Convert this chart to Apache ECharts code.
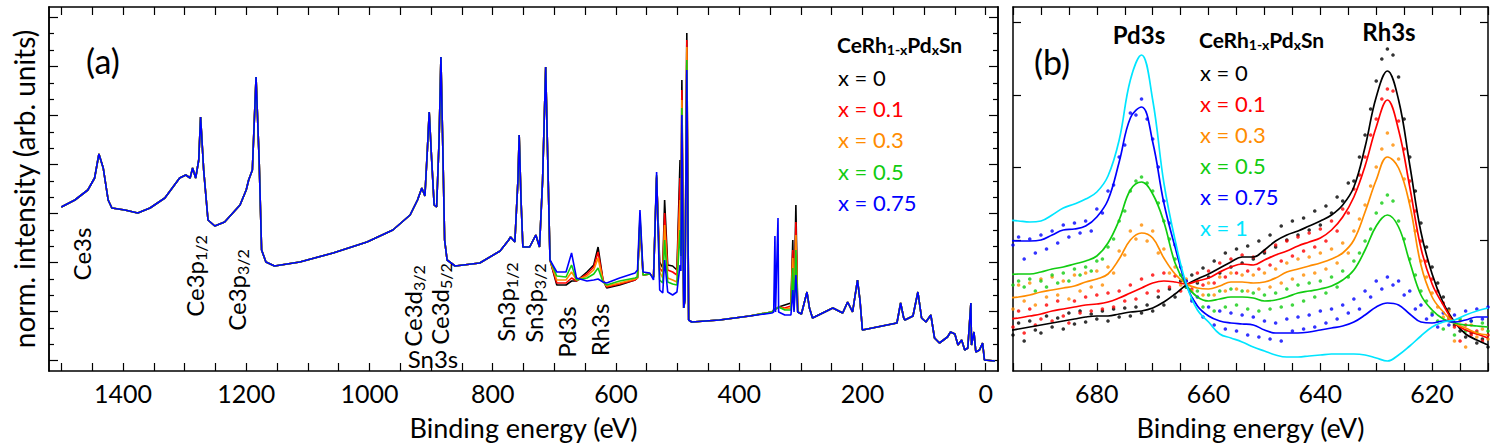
<!DOCTYPE html>
<html><head><meta charset="utf-8">
<script src="https://cdn.jsdelivr.net/npm/echarts@6/dist/echarts.min.js"></script>
<style>html,body{margin:0;padding:0;background:#fff}#c{width:1495px;height:447px}</style>
</head><body><div id="c"></div>
<script>
// ---------- Panel (a): survey spectra ----------
const energyA = [1500,1478,1457,1446,1439,1432,1424,1418,1397,1376,1356,1332,1308,1298,1291,1287,1282,1277,1274,1269,
1262,1251,1235,1210,1200,1196,1190,1184,1179,1175,1168,1154,1113,1059,1004,962,934,922,915,910,
906,903,899,895,891,887,884,881,878,874,861,821,788,774,771,764,759,757,754,751,
740,730,724,719,714,711,707,
696,681,672,664,647,636,629,621,615,594,569,565,561,556,545,539,534,529,524,521,
516,508,501,496,494.5,493,490,488,485,482,477,432,383,347,344,342,341,337,336,326,
316,313,311,308,305,299,290,286,281,248,232,224,216,208,204,200,144,138,133,131,
118,110,104,97,89,83,75,62,57,50,45,39,34,29,24,23,19,16,10,5,2,-15];

const surveyX0 = [164,171,181,193,217,203,171,163,161,158,163,173,193,196,193,203,193,211,254,201,
151,145,149,166,181,191,201,294,211,121,109,105,109,118,129,141,156,171,183,175,
221,259,211,166,164,230,314,225,131,111,105,108,120,131,134,129,191,236,171,124,
124,136,124,191,304,221,111,
86,86,90,90,99,106,124,91,83,86,91,93,149,96,97,94,193,109,103,171,
106,105,101,211,130,291,63,71,338,51,49,51,55,59,61,62,62,63,64,66,
68,131,61,166,59,57,79,63,53,63,58,69,59,91,71,41,48,68,53,51,
55,79,53,49,56,33,28,34,39,37,26,31,21,23,68,26,39,19,21,28,11,10];

const surveyX01 = [164,171,181,193,217,203,171,163,161,158,163,173,193,196,193,203,193,211,254,201,
151,145,149,166,181,191,201,294,211,121,109,105,109,118,129,141,156,171,183,175,
221,259,211,166,164,230,314,225,131,111,105,108,120,131,134,129,191,236,171,124,
124,136,124,191,304,221,111,
88,88,93,90,97,104,119,91,84,87,91,93,151,96,97,94,194,103,99,158,
101,99,96,193,125,281,63,71,331,51,49,51,55,59,61,62,62,63,64,63,
65,121,61,149,59,57,79,63,53,63,58,69,59,91,71,41,48,68,53,51,
55,79,53,49,56,33,28,34,39,37,26,31,21,23,68,26,39,19,21,28,11,10];

const surveyX03 = [164,171,181,193,217,203,171,163,161,158,163,173,193,196,193,203,193,211,254,201,
151,145,149,166,181,191,201,294,211,121,109,105,109,118,129,141,156,171,183,175,
221,259,211,166,164,230,314,225,131,111,105,108,120,131,134,129,191,236,171,124,
124,136,124,191,304,221,111,
91,91,99,91,95,101,113,90,85,88,92,93,153,96,97,94,195,99,93,146,
93,91,89,171,120,271,63,71,324,51,49,51,55,59,61,62,62,63,64,62,
63,113,61,136,59,57,79,63,53,63,58,69,59,91,71,41,48,68,53,51,
55,79,53,49,56,33,28,34,39,37,26,31,21,23,68,26,39,19,21,28,11,10];

const surveyX05 = [164,171,181,193,217,203,171,163,161,158,163,173,193,196,193,203,193,211,254,201,
151,145,149,166,181,191,201,294,211,121,109,105,109,118,129,141,156,171,183,175,
221,259,211,166,164,230,314,225,131,111,105,108,120,131,134,129,191,236,171,124,
124,136,124,191,304,221,111,
95,94,106,91,93,97,103,89,86,90,93,94,156,96,97,93,196,91,88,131,
89,87,86,141,115,263,63,71,311,51,49,51,55,59,61,62,62,63,64,61,
61,103,61,121,59,57,79,63,53,63,58,69,59,91,71,41,48,68,53,51,
55,79,53,49,56,33,28,34,39,37,26,31,21,23,68,26,39,19,21,28,11,10];

const surveyX075 = [164,171,181,193,217,203,171,163,161,158,163,173,193,196,193,203,193,211,254,201,
151,145,149,166,181,191,201,294,211,121,109,105,109,118,129,141,156,171,183,175,
221,259,211,166,164,230,314,225,131,111,105,108,120,131,134,129,191,236,171,124,
124,136,124,191,304,221,111,
99,99,118,93,90,91,92,89,88,93,98,101,161,99,98,91,199,81,78,111,
79,76,79,106,100,256,63,71,301,51,49,51,55,58,59,135,59,153,59,56,
56,81,59,96,59,57,79,63,53,63,58,69,59,91,71,41,48,68,53,51,
55,79,53,49,56,33,28,34,39,37,26,31,21,23,68,26,39,19,21,28,11,10];

const tickLabelsA = [0,200,400,600,800,1000,1200,1400];
const tickMarksA = [0,50,100,150,200,250,300,350,400,450,500,550,600,650,700,750,800,850,900,950,1000,1050,1100,1150,1200,1250,1300,1350,1400,1450,1500];

// ---------- Panel (b): Pd3s / Rh3s detail ----------
const energyLineB = [696,694,692,690,688,686,684,682,680,678,676,674,672,670,668,666,664,662,660,658,
656,654,652,650,648,646,644,642,640,638,636,634,632,630,628,626,624,622,620,618,616,614,612,610];
const fitX0 = [40,42,44,46,48,50,52,54,55,55,57,59,60,63,69,77,86,92,97,103,
109,114,114,121,130,136,140,145,150,156,166,184,224,274,300,271,206,139,97,68,49,37,31,26];
const fitX01 = [52,53,55,57,60,62,64,66,67,69,73,78,83,88,90,89,87,90,93,99,
104,107,106,111,116,120,125,129,133,141,154,174,205,244,271,241,184,123,87,66,48,41,37,33];
const fitX03 = [73,74,76,79,81,83,85,89,92,97,112,131,138,133,113,97,87,83,82,85,
89,89,88,89,93,99,102,105,108,112,118,131,159,191,214,203,166,106,74,59,48,43,38,36];
const fitX05 = [96,97,97,99,102,104,107,110,115,128,151,181,189,177,149,108,86,74,70,72,
74,74,73,70,71,74,78,80,82,85,91,101,121,145,156,144,109,76,61,52,48,46,45,44];
const fitX075 = [131,130,130,131,136,141,142,145,154,171,209,253,264,229,168,124,86,65,55,50,
48,47,46,41,38,38,38,39,41,43,45,49,56,64,68,66,57,49,48,50,49,51,54,54];
const fitX1 = [151,150,149,150,156,163,167,172,179,195,231,291,316,271,188,131,87,61,49,37,
33,29,24,20,16,14,14,15,16,17,17,17,16,13,10,16,25,35,44,49,51,56,60,63];

const energyDotB = [695,694,693,692,691,690,689,688,687,686,685,684,683,682,681,680,679,678,677,676,
675,674,673,672,671,670,669,668,667,666,665,664,663,662,661,660,659,658,657,656,
655,654,653,652,651,650,649,648,647,646,645,644,643,642,641,640,639,638,637,636,
635,634,633,632,631,630,629,628,627,626,625,624,623,622,621,620,619,618,617,616,
615,614,613,612,611,610];
const dotsX0 = [36,48,30,50,41,38,55,44,53,42,58,47,60,49,57,52,60,50,62,54,
63,55,64,58,66,60,74,66,82,74,90,84,96,88,103,94,110,98,118,104,
122,108,125,112,130,118,136,124,145,131,150,136,153,141,160,146,165,158,174,170,
188,190,214,236,262,290,312,322,316,294,252,214,180,148,124,104,88,74,62,46,
40,34,38,28,32,24];
const dotsX01 = [44,60,38,62,46,52,66,50,70,55,48,70,58,74,60,76,62,78,64,80,
70,86,72,92,78,96,80,98,84,95,80,90,82,98,86,100,88,108,94,112,
98,116,100,114,102,120,106,126,110,130,115,134,120,138,124,142,130,150,140,162,
158,182,196,214,236,252,272,282,280,250,222,190,160,130,110,92,80,68,52,44,
30,46,36,40,30,36];
const dotsX03 = [62,86,70,88,66,92,74,94,76,90,72,96,80,98,84,100,86,104,98,120,
116,140,132,146,130,140,118,122,98,104,86,92,80,90,76,88,76,94,80,98,
82,96,80,96,82,98,84,102,88,108,92,112,96,114,98,118,102,122,108,128,
118,140,152,166,185,204,222,238,226,212,192,170,140,110,94,78,64,54,60,30,
50,24,46,34,42,32];
const dotsX05 = [86,90,84,92,80,90,84,96,88,98,90,102,96,104,100,110,112,124,132,150,
160,180,190,194,188,180,168,150,132,112,96,84,72,80,64,76,60,80,64,82,
66,80,62,78,60,76,62,78,64,82,66,86,70,88,74,90,78,94,84,100,
94,110,118,130,142,158,168,176,170,150,132,112,96,80,70,58,50,42,54,36,
52,40,50,38,48,40];
const dotsX075 = [126,134,112,132,118,136,122,140,128,146,134,148,138,150,140,162,158,180,186,214,
226,258,256,272,252,232,204,170,148,126,104,90,70,74,54,64,46,60,42,58,
40,56,36,54,34,50,32,48,30,52,40,54,42,56,44,60,48,62,52,66,
58,72,62,80,74,90,82,94,86,90,76,80,62,66,52,56,44,58,46,56,
44,60,50,62,52,64];

const tickLabelsB = [620,640,660,680];
const tickMarksB = [610,615,620,625,630,635,640,645,650,655,660,665,670,675,680,685,690,695];

const seriesNamesA = ['x = 0','x = 0.1','x = 0.3','x = 0.5','x = 0.75'];
const seriesNamesB = ['x = 0','x = 0.1','x = 0.3','x = 0.5','x = 0.75','x = 1'];
const colors = ['#000000','#ff0000','#ff8c00','#11cc11','#0000ff','#00e5ff'];

// ---------- build chart ----------
const FONT = 'Lato';
const chart = echarts.init(document.getElementById('c'), null, {renderer:'svg', width:1495, height:447});

const zip = (xs, ys) => xs.map((x,i)=>[x, ys[i]]);
const black = '#000';

function xAx(grid, min, max, ticks, labels, pos, name){
  return {type:'value', gridIndex:grid, min:min, max:max, inverse:true, position:pos,
    axisLine:{show:true, onZero:false, lineStyle:{color:black, width:1.5}},
    axisTick:{show:true, inside:true, length:8, customValues:ticks, lineStyle:{color:black, width:1.2}},
    axisLabel: labels ? {show:true, customValues:labels, formatter:(v)=>String(v), color:black, fontFamily:FONT, fontSize:25, margin:9} : {show:false},
    splitLine:{show:false},
    name: name || '', nameLocation:'middle', nameGap:43,
    nameTextStyle:{color:black, fontFamily:FONT, fontSize:27}};
}
function yAx(grid, ticks, len, pos, name){
  return {type:'value', gridIndex:grid, min:0, max:364, position:pos,
    axisLine:{show:true, onZero:false, lineStyle:{color:black, width:1.5}},
    axisTick:{show:true, inside:true, length:len, customValues:ticks, lineStyle:{color:black, width:1.2}},
    axisLabel:{show:false}, splitLine:{show:false},
    name: name || '', nameLocation:'middle', nameGap:11,
    nameTextStyle:{color:black, fontFamily:FONT, fontSize:28}};
}
const majA = [10.3,59.35,108.4,157.45,206.5,255.55,304.6,353.65];
const minA = [26.65,43.0,75.7,92.05,124.75,141.1,173.8,190.15,222.85,239.2,271.9,288.25,320.95,337.3];
const majB = [131,203.5,276,348.5];

const seriesA = [surveyX0, surveyX01, surveyX03, surveyX05, surveyX075].map((ys,i)=>({
  type:'line', name:seriesNamesA[i], xAxisIndex:0, yAxisIndex:0, data:zip(energyA, ys),
  showSymbol:false, symbol:'none', lineStyle:{color:colors[i], width:1.6}, clip:true, z:2+i
}));
const dotsB = [dotsX0, dotsX01, dotsX03, dotsX05, dotsX075].map((ys,i)=>({
  type:'scatter', name:seriesNamesB[i]+' data', xAxisIndex:2, yAxisIndex:4, data:zip(energyDotB, ys),
  symbol:'circle', symbolSize:3.6, itemStyle:{color:colors[i]}, z:2
}));
const linesB = [fitX0, fitX01, fitX03, fitX05, fitX075, fitX1].map((ys,i)=>({
  type:'line', name:seriesNamesB[i], xAxisIndex:2, yAxisIndex:4, data:zip(energyLineB, ys),
  showSymbol:false, symbol:'none', smooth:0.4, lineStyle:{color:colors[i], width:1.7}, clip:true, z:3+i
}));

function txt(x, y, text, size, opts){
  opts = opts || {};
  return {type:'text', x:x, y:y, rotation:opts.rot||0, z:50,
    style:Object.assign({text:text, fill:opts.color||black, fontFamily:FONT, fontSize:size,
      fontWeight:opts.bold?'bold':'normal',
      align:opts.align||'center', textAlign:opts.align||'center',
      verticalAlign:'middle', textVerticalAlign:'middle'}, opts.rich?{rich:opts.rich}:{})};
}
function subRich(size, bold){
  const w = bold?'bold':'normal';
  return {m:{fontFamily:FONT, fontSize:size, fontWeight:w, fill:black, lineHeight:size+4},
          s:{fontFamily:FONT, fontSize:Math.round(size*0.65), fontWeight:w, fill:black, lineHeight:Math.round(size*0.45), verticalAlign:'bottom'}};
}
const R = Math.PI/2;
const LS = 24;
const graphics = [
  txt(103, 60, '(a)', 34),
  txt(1052, 61, '(b)', 34),
  txt(81, 254, 'Ce3s', LS, {rot:R}),
  txt(194, 276, '{m|Ce3p}{s|1/2}', LS, {rot:R, rich:subRich(LS,false)}),
  txt(236, 290, '{m|Ce3p}{s|3/2}', LS, {rot:R, rich:subRich(LS,false)}),
  txt(412, 306, '{m|Ce3d}{s|3/2}', LS, {rot:R, rich:subRich(LS,false)}),
  txt(439, 304, '{m|Ce3d}{s|5/2}', LS, {rot:R, rich:subRich(LS,false)}),
  txt(433, 358, 'Sn3s', LS),
  txt(505, 302, '{m|Sn3p}{s|1/2}', LS, {rot:R, rich:subRich(LS,false)}),
  txt(533, 303, '{m|Sn3p}{s|3/2}', LS, {rot:R, rich:subRich(LS,false)}),
  txt(566, 332, 'Pd3s', LS, {rot:R}),
  txt(599, 330, 'Rh3s', LS, {rot:R}),
  txt(1139, 34, 'Pd3s', 24, {bold:true}),
  txt(1389, 31, 'Rh3s', 24, {bold:true}),
  txt(837, 44, '{m|CeRh}{s|1-x}{m|Pd}{s|x}{m|Sn}', 21, {align:'left', rich:subRich(21,true)}),
  txt(1199, 39, '{m|CeRh}{s|1-x}{m|Pd}{s|x}{m|Sn}', 21, {align:'left', rich:subRich(21,true)})
];
const legYA = [77,108,139,171,202];
seriesNamesA.forEach((n,i)=>graphics.push(txt(838, legYA[i], n, 22, {align:'left', color:colors[i]})));
const legYB = [72,103,134,165,196,227];
seriesNamesB.forEach((n,i)=>graphics.push(txt(1200, legYB[i], n, 22, {align:'left', color:colors[i]})));

chart.setOption({
  animation:false,
  backgroundColor:'#fff',
  grid:[{left:49, top:7, width:949, height:364}, {left:1013, top:7, width:475, height:364}],
  xAxis:[
    xAx(0, -20, 1520, tickMarksA, tickLabelsA, 'bottom', 'Binding energy (eV)'),
    xAx(0, -20, 1520, tickMarksA, null, 'top'),
    xAx(1, 610, 695, tickMarksB, tickLabelsB, 'bottom', 'Binding energy (eV)'),
    xAx(1, 610, 695, tickMarksB, null, 'top')
  ],
  yAxis:[
    yAx(0, majA, 9, 'left', 'norm. intensity (arb. units)'),
    yAx(0, minA, 5, 'left'),
    yAx(0, majA, 9, 'right'),
    yAx(0, minA, 5, 'right'),
    yAx(1, majB, 8, 'left'),
    yAx(1, majB, 8, 'right')
  ],
  series: seriesA.concat(dotsB, linesB),
  graphic: graphics
});
</script></body></html>
